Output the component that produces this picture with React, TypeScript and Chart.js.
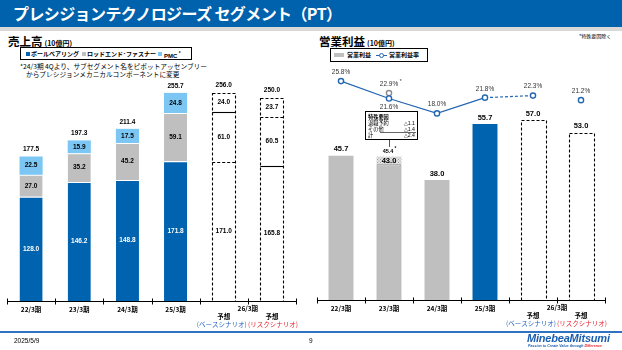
import React, { useEffect, useRef } from 'react';
import { Chart, registerables } from 'chart.js';
Chart.register(...registerables);

// ---------- data ----------
const categories = ['22/3期', '23/3期', '24/3期', '25/3期', '26/3期予想(ベース)', '26/3期予想(リスク)'];
const actualLabels = ['22/3期', '23/3期', '24/3期', '25/3期'];
const forecastYear = '26/3期';
const forecastWord = '予想';
const scenarioLabels = ['(ベースシナリオ)', '(リスクシナリオ)'];

const ballBearing = [128.0, 146.2, 148.8, 171.8, 171.0, 165.8];
const rodEndFastener = [27.0, 35.2, 45.2, 59.1, 61.0, 60.5];
const pmc = [22.5, 15.9, 17.5, 24.8, 24.0, 23.7];
const salesTotals = [177.5, 197.3, 211.4, 255.7, 256.0, 250.0];

const opProfit = [45.7, 43.0, 38.0, 55.7, 57.0, 53.0];
const specialFactors = [null, 2.4, null, null, null, null];
const opProfitExSpecial = [null, 45.4, null, null, null, null];
const opMarginActual = [25.8, 21.6, 18.0, 21.8, null, null];
const opMarginBase = [null, null, null, 21.8, 22.3, null];
const opMarginRisk = [null, null, null, null, null, 21.2];
const opMarginExSpecial = [null, 22.9, null, null, null, null];

// ---------- style ----------
const BLUE = '#0063AF';
const GRAY = '#BFBFBF';
const LIGHT = '#7CC6F4';
const LINE = '#2366B2';
const NUM = "'Liberation Sans', Arial, sans-serif";
const JP = "'Noto Sans CJK JP', 'Noto Sans', sans-serif";
const isForecast = (i: number) => i >= 4;

function drawAxis(chart: any) {
  const { ctx, chartArea } = chart;
  const xs = chart.scales.x;
  const w = xs.getPixelForValue(1) - xs.getPixelForValue(0);
  const y = Math.round(chartArea.bottom) + 0.5;
  ctx.save();
  ctx.strokeStyle = '#000';
  ctx.lineWidth = 1;
  ctx.beginPath();
  ctx.moveTo(chartArea.left, y);
  ctx.lineTo(chartArea.right, y);
  for (let k = 0; k <= categories.length; k++) {
    const x = Math.round(xs.getPixelForValue(0) - w / 2 + k * w) + 0.5;
    ctx.moveTo(x, y - 3);
    ctx.lineTo(x, y + 3);
  }
  ctx.stroke();
  ctx.textAlign = 'center';
  ctx.textBaseline = 'middle';
  ctx.fillStyle = '#000';
  ctx.font = `bold 6.5px ${JP}`;
  actualLabels.forEach((l, i) => ctx.fillText(l, xs.getPixelForValue(i), y + 8));
  const xb = xs.getPixelForValue(4), xr = xs.getPixelForValue(5);
  ctx.fillText(forecastYear, (xb + xr) / 2, y + 7);
  ctx.fillText(forecastWord, xb, y + 15);
  ctx.fillText(forecastWord, xr, y + 15);
  ctx.font = `6.5px ${JP}`;
  ctx.fillStyle = '#1F5FBF';
  ctx.fillText(scenarioLabels[0], xb - 2, y + 23.5);
  ctx.fillStyle = '#E8202A';
  ctx.fillText(scenarioLabels[1], xr + 1, y + 23.5);
  ctx.restore();
}

function dashedRect(ctx: any, l: number, t: number, r: number, b: number) {
  ctx.save();
  ctx.strokeStyle = '#000';
  ctx.lineWidth = 1.1;
  ctx.setLineDash([3, 2]);
  ctx.strokeRect(Math.round(l) + 0.5, Math.round(t) + 0.5, Math.round(r - l), Math.round(b - t));
  ctx.restore();
}

function hLine(ctx: any, l: number, r: number, y: number, dashed: boolean) {
  ctx.save();
  ctx.strokeStyle = '#000';
  ctx.lineWidth = 1.1;
  ctx.setLineDash(dashed ? [3, 2] : []);
  ctx.beginPath();
  ctx.moveTo(l, Math.round(y) + 0.5);
  ctx.lineTo(r, Math.round(y) + 0.5);
  ctx.stroke();
  ctx.restore();
}

const salesPlugin = {
  id: 'salesDecor',
  afterDatasetsDraw(chart: any) {
    const { ctx } = chart;
    const metas = [0, 1, 2].map((d) => chart.getDatasetMeta(d));
    const values = [ballBearing, rodEndFastener, pmc];
    // forecast outlines
    const sepDashed = [
      [true, false],
      [false, true],
    ];
    for (let i = 4; i < 6; i++) {
      const e0 = metas[0].data[i].getProps(['x', 'y', 'base', 'width'], true);
      const e1 = metas[1].data[i].getProps(['y'], true);
      const e2 = metas[2].data[i].getProps(['y'], true);
      const l = e0.x - e0.width / 2, r = e0.x + e0.width / 2;
      dashedRect(ctx, l, e2.y, r, e0.base);
      hLine(ctx, l, r, e0.y, sepDashed[i - 4][0]);
      hLine(ctx, l, r, e1.y, sepDashed[i - 4][1]);
    }
    ctx.save();
    ctx.textAlign = 'center';
    ctx.textBaseline = 'middle';
    ctx.font = `bold 6.5px ${NUM}`;
    for (let i = 0; i < categories.length; i++) {
      for (let d = 0; d < 3; d++) {
        const p = metas[d].data[i].getProps(['x', 'y', 'base'], true);
        ctx.fillStyle = d === 0 && !isForecast(i) ? '#fff' : '#000';
        ctx.fillText(values[d][i].toFixed(1), p.x, (p.y + p.base) / 2);
      }
      const top = metas[2].data[i].getProps(['x', 'y'], true);
      ctx.fillStyle = '#000';
      ctx.fillText(salesTotals[i].toFixed(1), top.x, top.y - 7);
    }
    ctx.restore();
  },
  afterDraw(chart: any) {
    drawAxis(chart);
  },
};

const profitPlugin = {
  id: 'profitDecor',
  afterDatasetsDraw(chart: any) {
    const { ctx } = chart;
    const bars = chart.getDatasetMeta(0);
    const hatch = chart.getDatasetMeta(1);
    for (let i = 4; i < 6; i++) {
      const p = bars.data[i].getProps(['x', 'y', 'base', 'width'], true);
      dashedRect(ctx, p.x - p.width / 2, p.y, p.x + p.width / 2, p.base);
    }
    ctx.save();
    ctx.textAlign = 'center';
    ctx.textBaseline = 'middle';
    ctx.fillStyle = '#000';
    for (let i = 0; i < opProfit.length; i++) {
      const p = bars.data[i].getProps(['x', 'y'], true);
      ctx.font = `bold 7.5px ${NUM}`;
      if (specialFactors[i] != null) {
        ctx.fillText(opProfit[i].toFixed(1), p.x, p.y - 3);
        const h = hatch.data[i].getProps(['x', 'y'], true);
        ctx.font = `bold 5.5px ${NUM}`;
        const t = (opProfitExSpecial[i] as number).toFixed(1);
        ctx.fillText(t, h.x - 1, h.y - 5.5);
        const tw = ctx.measureText(t).width;
        ctx.font = `bold 4.5px ${NUM}`;
        ctx.fillText('*', h.x - 1 + tw / 2 + 2, h.y - 7.5);
      } else {
        ctx.fillText(opProfit[i].toFixed(1), p.x, p.y - 6.5);
      }
    }
    // margin labels
    ctx.font = `6.5px ${NUM}`;
    ctx.fillStyle = '#333';
    const lab = (ds: number, arr: (number | null)[], dy: number, star = false) => {
      const m = chart.getDatasetMeta(ds);
      arr.forEach((v, i) => {
        if (v == null) return;
        if (ds === 3 && i === 3) dy = -8;
        const p = m.data[i].getProps(['x', 'y'], true);
        const t = v.toFixed(1) + '%';
        ctx.font = `6.5px ${NUM}`;
        ctx.fillText(t, p.x, p.y + dy);
        if (star) {
          const tw = ctx.measureText(t).width;
          ctx.font = `5px ${NUM}`;
          ctx.fillText('*', p.x + tw / 2 + 2.5, p.y + dy - 2.5);
        }
      });
    };
    // solid line labels: 25.8 above, 21.6 below, 18.0 above, 21.8 above
    const mA = chart.getDatasetMeta(2);
    const offs = [-9, 9, -9, -8];
    opMarginActual.forEach((v, i) => {
      if (v == null) return;
      const p = mA.data[i].getProps(['x', 'y'], true);
      ctx.fillText(v.toFixed(1) + '%', p.x, p.y + offs[i]);
    });
    lab(3, [null, null, null, null, opMarginBase[4], null], -9);
    lab(4, opMarginRisk, -9);
    lab(5, opMarginExSpecial, -9, true);
    ctx.restore();
  },
  afterDraw(chart: any) {
    drawAxis(chart);
  },
};

function makeHatch() {
  const c = document.createElement('canvas');
  c.width = 3;
  c.height = 3;
  const g = c.getContext('2d')!;
  g.fillStyle = '#E6E6E6';
  g.fillRect(0, 0, 3, 3);
  g.fillStyle = '#9C9C9C';
  g.fillRect(0, 0, 1, 1);
  g.fillRect(1.5, 1.5, 1, 1);
  return g.createPattern(c, 'repeat');
}

export default function App() {
  const leftRef = useRef<HTMLCanvasElement>(null);
  const rightRef = useRef<HTMLCanvasElement>(null);

  useEffect(() => {
    const actualOr = (c: string, f: string) => categories.map((_, i) => (isForecast(i) ? f : c));
    const left = new Chart(leftRef.current!, {
      type: 'bar',
      data: {
        labels: categories,
        datasets: [
          { label: 'ボールベアリング', data: ballBearing, backgroundColor: actualOr(BLUE, '#fff'), borderColor: '#fff', borderWidth: { top: 1, bottom: 0, left: 0, right: 0 } as any, borderSkipped: false as any },
          { label: 'ロッドエンド・ファスナー', data: rodEndFastener, backgroundColor: actualOr(GRAY, '#fff'), borderColor: '#fff', borderWidth: { top: 1, bottom: 0, left: 0, right: 0 } as any, borderSkipped: false as any },
          { label: 'PMC', data: pmc, backgroundColor: actualOr(LIGHT, '#fff'), borderColor: '#fff', borderWidth: { top: 0, bottom: 0, left: 0, right: 0 } as any, borderSkipped: false as any },
        ],
      },
      options: {
        responsive: false,
        animation: false,
        events: [],
        layout: { padding: { left: 7, right: 9, top: 20, bottom: 39 } },
        datasets: { bar: { categoryPercentage: 1, barPercentage: 0.48 } },
        scales: {
          x: { display: false, stacked: true, offset: true },
          y: { display: false, stacked: true, min: 0, max: 271.5 },
        },
        plugins: { legend: { display: false }, tooltip: { enabled: false } },
      },
      plugins: [salesPlugin],
    });

    const hatch = makeHatch();
    const right = new Chart(rightRef.current!, {
      type: 'bar',
      data: {
        labels: categories,
        datasets: [
          {
            type: 'bar',
            label: '営業利益',
            data: opProfit,
            backgroundColor: [GRAY, GRAY, GRAY, BLUE, '#fff', '#fff'],
            borderColor: ['#fff', '#7F7F7F', '#fff', '#fff', '#fff', '#fff'],
            borderWidth: [0, 1, 0, 0, 0, 0],
            borderSkipped: 'bottom',
            stack: 's',
            yAxisID: 'y',
            order: 2,
          } as any,
          {
            type: 'bar',
            label: '特殊要因',
            data: specialFactors,
            backgroundColor: hatch as any,
            borderWidth: 0,
            stack: 's',
            yAxisID: 'y',
            order: 2,
          } as any,
          {
            type: 'line',
            label: '営業利益率',
            data: opMarginActual,
            yAxisID: 'y2',
            borderColor: LINE,
            borderWidth: 1.2,
            pointRadius: 2.6,
            pointBorderWidth: 1.4,
            pointBackgroundColor: '#fff',
            pointBorderColor: LINE,
            order: 1,
          } as any,
          {
            type: 'line',
            label: '営業利益率(予想)',
            data: opMarginBase,
            yAxisID: 'y2',
            borderColor: LINE,
            borderWidth: 1.2,
            borderDash: [3, 2],
            pointRadius: [0, 0, 0, 0, 2.6, 0],
            pointBorderWidth: 1.4,
            pointBackgroundColor: '#fff',
            pointBorderColor: LINE,
            order: 1,
          } as any,
          {
            type: 'line',
            label: '営業利益率(リスク)',
            data: opMarginRisk,
            yAxisID: 'y2',
            showLine: false,
            pointRadius: 2.6,
            pointBorderWidth: 1.4,
            pointBackgroundColor: '#fff',
            pointBorderColor: LINE,
            order: 1,
          } as any,
          {
            type: 'line',
            label: '特殊要因除く',
            data: opMarginExSpecial,
            yAxisID: 'y2',
            showLine: false,
            pointRadius: 2.6,
            pointBorderWidth: 1.4,
            pointBackgroundColor: '#fff',
            pointBorderColor: '#8C8C8C',
            order: 1,
          } as any,
        ],
      },
      options: {
        responsive: false,
        animation: false,
        events: [],
        layout: { padding: { left: 12, right: 17, top: 30, bottom: 40 } },
        datasets: { bar: { categoryPercentage: 1, barPercentage: 0.52 } },
        scales: {
          x: { display: false, stacked: true, offset: true },
          y: { display: false, stacked: true, min: 0, max: 76 },
          y2: { display: false, stacked: false, min: -27.1, max: 30.9 },
        },
        plugins: { legend: { display: false }, tooltip: { enabled: false } },
      },
      plugins: [profitPlugin],
    });
    return () => {
      left.destroy();
      right.destroy();
    };
  }, []);

  const abs = (s: any): any => ({ position: 'absolute', ...s });

  return (
    <div style={{ position: 'fixed', left: 0, top: 0, width: 622, height: 350, overflow: 'hidden', background: '#fff', fontFamily: JP, color: '#000' }}>
      {/* header */}
      <div style={abs({ left: 0, top: 0, width: 622, height: 27, background: '#0062AC' })} />
      <div style={abs({ left: 0, top: 27, width: 622, height: 4, background: '#D9D9D9' })} />
      <div style={abs({ left: 13, top: 3, fontSize: 16, fontWeight: 700, color: '#fff', whiteSpace: 'nowrap', lineHeight: '20px', letterSpacing: -0.6 })}>
        プレシジョンテクノロジーズ セグメント（PT）
      </div>

      {/* left titles */}
      <div style={abs({ left: 8, top: 32, whiteSpace: 'nowrap', lineHeight: '14px' })}>
        <span style={{ fontSize: 11.5, fontWeight: 700 }}>売上高</span>
        <span style={{ fontSize: 7, fontWeight: 700, marginLeft: 2 }}>(10億円)</span>
      </div>
      <div style={abs({ left: 20, top: 47, width: 172, height: 13, border: '1px solid #000', boxSizing: 'border-box', fontSize: 6, fontWeight: 700, lineHeight: '11px', whiteSpace: 'nowrap' })}>
        <div style={abs({ left: 5, top: 3.5, width: 4, height: 4, background: BLUE })} />
        <div style={abs({ left: 10, top: 0 })}>ボールベアリング</div>
        <div style={abs({ left: 61, top: 3.5, width: 4, height: 4, background: GRAY })} />
        <div style={abs({ left: 66, top: 0 })}>ロッドエンド･ファスナー</div>
        <div style={abs({ left: 137, top: 3.5, width: 4, height: 4, background: LIGHT })} />
        <div style={abs({ left: 143, top: 0, fontFamily: NUM })}>PMC<span style={{ fontSize: 4.5, verticalAlign: 3, marginLeft: 1.5 }}>*</span></div>
      </div>
      <div style={abs({ left: 20, top: 62, fontSize: 6.7, lineHeight: '8px', whiteSpace: 'nowrap' })}>
        *24/3期 4Qより、サブセグメント名をピボットアッセンブリー
      </div>
      <div style={abs({ left: 26, top: 70, fontSize: 6.7, lineHeight: '8px', whiteSpace: 'nowrap' })}>
        からプレシジョンメカニカルコンポーネントに変更
      </div>

      {/* right titles */}
      <div style={abs({ left: 319, top: 32, whiteSpace: 'nowrap', lineHeight: '14px' })}>
        <span style={{ fontSize: 11.5, fontWeight: 700 }}>営業利益</span>
        <span style={{ fontSize: 7, fontWeight: 700, marginLeft: 2 }}>(10億円)</span>
      </div>
      <div style={abs({ left: 579, top: 32, fontSize: 5, whiteSpace: 'nowrap', lineHeight: '8px' })}>*特殊要因除く</div>
      <div style={abs({ left: 330, top: 48, width: 98, height: 14, border: '1px solid #000', boxSizing: 'border-box', fontSize: 6, fontWeight: 700, lineHeight: '12px', whiteSpace: 'nowrap' })}>
        <div style={abs({ left: 3, top: 4, width: 10, height: 4, background: GRAY })} />
        <div style={abs({ left: 16, top: 0 })}>営業利益</div>
        <div style={abs({ left: 45, top: 5.5, width: 11, height: 1.3, background: LINE })} />
        <div style={abs({ left: 48.3, top: 3.8, width: 3, height: 3, borderRadius: 3, border: `1.2px solid ${LINE}`, background: '#fff' })} />
        <div style={abs({ left: 58, top: 0 })}>営業利益率</div>
      </div>

      {/* canvases */}
      <canvas ref={leftRef} width={305} height={280} style={abs({ left: 0, top: 60 })} />
      <canvas ref={rightRef} width={317} height={310} style={abs({ left: 305, top: 30 })} />

      {/* special factor annotation */}
      <div style={abs({ left: 365, top: 111, width: 53, height: 29, border: '1px solid #000', boxSizing: 'border-box', background: '#fff', fontSize: 5.2, lineHeight: '6px', whiteSpace: 'nowrap' })}>
        <div style={abs({ left: 2, top: 1.5, fontWeight: 700 })}>特殊要因</div>
        <div style={abs({ left: 2, top: 7.5 })}>退職予約</div>
        <div style={abs({ right: 2, top: 7.5, fontFamily: NUM })}>△1.1</div>
        <div style={abs({ left: 2, top: 13.5 })}>その他</div>
        <div style={abs({ right: 2, top: 13.5, fontFamily: NUM })}>△1.4</div>
        <div style={abs({ left: 14, right: 1, top: 19.5, height: 0.8, background: '#666' })} />
        <div style={abs({ left: 2, top: 20 })}>計</div>
        <div style={abs({ right: 2, top: 20, fontFamily: NUM })}>△2.4</div>
      </div>
      <div style={abs({ left: 389, top: 140, width: 1, height: 7, background: '#555' })} />

      {/* footer */}
      <div style={abs({ left: 0, top: 331, width: 622, height: 2, background: '#2E73C2' })} />
      <div style={abs({ left: 14, top: 337, fontSize: 6.5, fontFamily: NUM, lineHeight: '8px' })}>2025/5/9</div>
      <div style={abs({ left: 309, top: 337, fontSize: 6.5, fontFamily: NUM, lineHeight: '8px' })}>9</div>
      <div style={abs({ left: 527, top: 333, fontSize: 11, fontWeight: 700, fontStyle: 'italic', fontFamily: NUM, color: '#1B5DAF', lineHeight: '11px', letterSpacing: -0.2 })}>MinebeaMitsumi</div>
      <div style={abs({ left: 528, top: 344, fontSize: 3.6, fontWeight: 700, fontStyle: 'italic', fontFamily: NUM, color: '#1B5DAF', lineHeight: '4px', whiteSpace: 'nowrap' })}>
        Passion to Create Value through <span style={{ color: '#E8202A' }}>Difference</span>
      </div>
    </div>
  );
}
